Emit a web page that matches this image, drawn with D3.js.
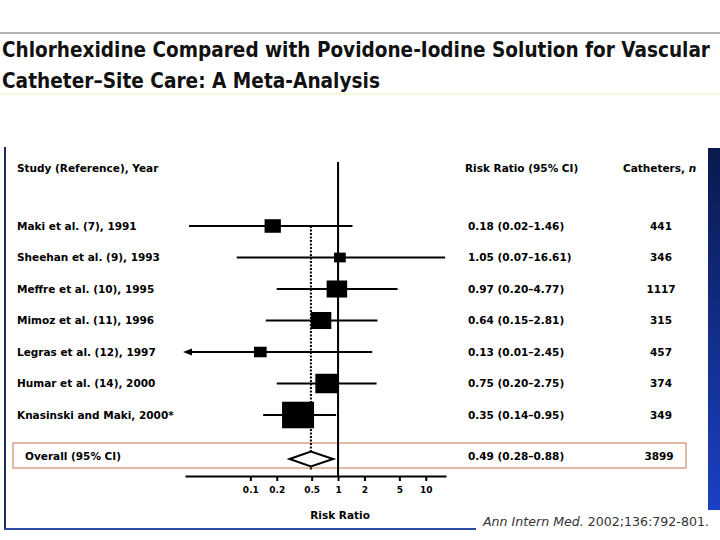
<!DOCTYPE html>
<html>
<head>
<meta charset="utf-8">
<script src="https://cdn.jsdelivr.net/npm/d3@7"></script>
<style>
body { margin: 0; background: #fff; }
svg { display: block; }
</style>
</head>
<body>
<div id="chart"></div>
<script>
// study data
const studies = ['Maki et al. (7), 1991', 'Sheehan et al. (9), 1993', 'Meffre et al. (10), 1995',
    'Mimoz et al. (11), 1996', 'Legras et al. (12), 1997', 'Humar et al. (14), 2000', 'Knasinski and Maki, 2000*'];
const riskRatio = [0.18, 1.05, 0.97, 0.64, 0.13, 0.75, 0.35];
const ciLow = [0.02, 0.07, 0.20, 0.15, 0.01, 0.20, 0.14];
const ciHigh = [1.46, 16.61, 4.77, 2.81, 2.45, 2.75, 0.95];
const catheters = [441, 346, 1117, 315, 457, 374, 349];
const weights = [8.9, 4.6, 14.1, 14.1, 5.4, 18.5, 34.3]; // estimated from square sizes
const overall = {label: 'Overall (95% CI)', rr: 0.49, low: 0.28, high: 0.88, n: 3899};
const tickValues = [0.1, 0.2, 0.5, 1, 2, 5, 10];

const width = 720;
const height = 540;
const font = '"DejaVu Sans", Verdana, sans-serif';

const svg = d3.select('#chart').append('svg')
    .attr('width', width)
    .attr('height', height);

// gradient for the blue side panel
const grad = svg.append('defs').append('linearGradient')
    .attr('id', 'panel')
    .attr('x1', 0).attr('y1', 0).attr('x2', 0).attr('y2', 1);
grad.append('stop').attr('offset', 0).attr('stop-color', '#0a1a4c');
grad.append('stop').attr('offset', 1).attr('stop-color', '#1c40c4');

// title block, small font stretched upward to look condensed
svg.append('line').attr('x1', 0).attr('x2', width).attr('y1', 33).attr('y2', 33)
    .attr('stroke', '#666').attr('stroke-width', 1);
const titleLines = ['Chlorhexidine Compared with Povidone-Iodine Solution for Vascular', 'Catheter\u2013Site Care: A Meta-Analysis'];
const titleLen = [708, 378];
svg.selectAll('.title')
    .data(titleLines)
    .enter().append('text')
    .attr('class', 'title')
    .attr('transform', (d, i) => `translate(2,${57 + i * 31}) scale(1,1.35)`)
    .attr('textLength', (d, i) => titleLen[i])
    .attr('lengthAdjust', 'spacingAndGlyphs')
    .style('font-family', '"Liberation Sans Narrow", "DejaVu Sans Condensed", "DejaVu Sans", sans-serif')
    .style('font-size', '16px')
    .style('font-weight', 'bold')
    .style('fill', '#111')
    .text(d => d);
svg.append('line').attr('x1', 0).attr('x2', width).attr('y1', 94).attr('y2', 94)
    .attr('stroke', '#fbf6dc').attr('stroke-width', 2);

// frame lines and side panel
svg.append('line').attr('x1', 5).attr('x2', 5).attr('y1', 147).attr('y2', 530)
    .attr('stroke', '#1b2d5c').attr('stroke-width', 2);
svg.append('line').attr('x1', 4).attr('x2', 476).attr('y1', 529).attr('y2', 529)
    .attr('stroke', '#2b4c9c').attr('stroke-width', 2);
svg.append('rect').attr('x', 708).attr('y', 148).attr('width', 12).attr('height', 362)
    .attr('fill', 'url(#panel)');

// scales
const x = d3.scaleLog().domain([0.018, 17]).range([185, 446]);
const y = d3.scalePoint().domain(studies).range([226, 415]);
const size = d3.scaleSqrt().domain([0, 34.3]).range([0, 32]);
const yOverall = 459;

// overall box
svg.append('rect')
    .attr('x', 13).attr('y', 443).attr('width', 673).attr('height', 25)
    .attr('fill', 'none')
    .attr('stroke', '#c8774e')
    .attr('stroke-width', 1);

// line of no effect and pooled estimate
svg.append('line')
    .attr('x1', x(1)).attr('x2', x(1)).attr('y1', 162).attr('y2', 476)
    .attr('stroke', '#000').attr('stroke-width', 2);
svg.append('line')
    .attr('x1', x(overall.rr)).attr('x2', x(overall.rr)).attr('y1', y(studies[0])).attr('y2', 470)
    .attr('stroke', '#000').attr('stroke-width', 2)
    .attr('stroke-dasharray', '2,1.5');

// confidence intervals, clipped to the axis with an arrow
const xMin = x.domain()[0];
const rows = studies.map((s, i) => ({study: s, rr: riskRatio[i], low: ciLow[i], high: ciHigh[i], n: catheters[i], w: weights[i]}));
const row = svg.selectAll('.row')
    .data(rows)
    .enter().append('g')
    .attr('class', 'row');

row.append('line')
    .attr('x1', d => d.low < xMin ? x(xMin) + 4 : x(d.low))
    .attr('x2', d => x(d.high))
    .attr('y1', d => y(d.study))
    .attr('y2', d => y(d.study))
    .attr('stroke', '#000')
    .attr('stroke-width', 2);

row.filter(d => d.low < xMin).append('path')
    .attr('d', d => {
        const yy = y(d.study);
        const x0 = x(xMin) - 2;
        return `M${x0},${yy} L${x0 + 9},${yy - 3.5} L${x0 + 9},${yy + 3.5} Z`;
    })
    .attr('fill', '#000');

// squares sized by weight
row.append('rect')
    .attr('x', d => x(d.rr) - size(d.w) / 2)
    .attr('y', d => y(d.study) - size(d.w) * 0.83 / 2)
    .attr('width', d => size(d.w))
    .attr('height', d => size(d.w) * 0.83)
    .attr('fill', '#000');

// pooled diamond
svg.append('path')
    .attr('d', `M${x(overall.low)},${yOverall} L${x(overall.rr)},${yOverall - 7.5} L${x(overall.high)},${yOverall} L${x(overall.rr)},${yOverall + 7.5} Z`)
    .attr('fill', '#fff')
    .attr('stroke', '#000')
    .attr('stroke-width', 2);

// x axis
const axis = svg.append('g')
    .attr('transform', 'translate(0,476)')
    .call(d3.axisBottom(x).tickValues(tickValues).tickFormat(d => d).tickSize(5).tickSizeOuter(0));
axis.select('.domain').attr('stroke-width', 2);
axis.selectAll('.tick line').attr('stroke-width', 2);
axis.selectAll('.tick text')
    .attr('y', 11)
    .style('font-family', font)
    .style('font-size', '9px')
    .style('font-weight', 'bold');

svg.append('text')
    .attr('x', x(1) + 2).attr('y', 519)
    .attr('text-anchor', 'middle')
    .style('font-family', font).style('font-size', '10.5px').style('font-weight', 'bold')
    .text('Risk Ratio');

// column headers
const labelStyle = sel => sel.style('font-family', font).style('font-size', '10.5px').style('font-weight', 'bold').style('fill', '#000');
svg.append('text').attr('x', 17).attr('y', 172).call(labelStyle).text('Study (Reference), Year');
svg.append('text').attr('x', 465).attr('y', 172).call(labelStyle).text('Risk Ratio (95% CI)');
const catHead = svg.append('text').attr('x', 623).attr('y', 172).call(labelStyle);
catHead.append('tspan').text('Catheters, ');
catHead.append('tspan').style('font-style', 'italic').text('n');

// row text
const fmt = d3.format('.2f');
row.append('text')
    .attr('x', 17).attr('y', d => y(d.study) + 3.5)
    .call(labelStyle).text(d => d.study);
row.append('text')
    .attr('x', 468).attr('y', d => y(d.study) + 3.5)
    .call(labelStyle).text(d => `${fmt(d.rr)} (${fmt(d.low)}\u2013${fmt(d.high)})`);
row.append('text')
    .attr('x', 661).attr('y', d => y(d.study) + 3.5)
    .attr('text-anchor', 'middle')
    .call(labelStyle).text(d => d.n);

svg.append('text').attr('x', 25).attr('y', 460).call(labelStyle).text(overall.label);
svg.append('text').attr('x', 468).attr('y', 460).call(labelStyle)
    .text(`${fmt(overall.rr)} (${fmt(overall.low)}\u2013${fmt(overall.high)})`);
svg.append('text').attr('x', 659).attr('y', 460).attr('text-anchor', 'middle').call(labelStyle).text(overall.n);

// citation
const cite = svg.append('text')
    .attr('x', 483).attr('y', 526)
    .style('font-family', font).style('font-size', '12.6px').style('fill', '#333');
cite.append('tspan').style('font-style', 'italic').text('Ann Intern Med.');
cite.append('tspan').text(' 2002;136:792-801.');
</script>
</body>
</html>
